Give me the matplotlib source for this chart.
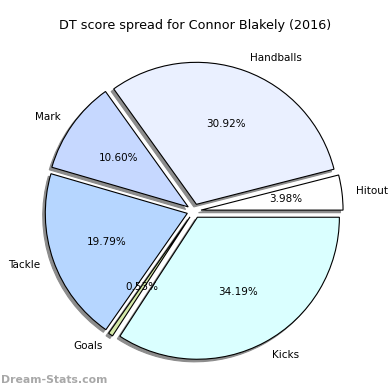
import matplotlib
matplotlib.use("Agg")
import matplotlib.pyplot as plt

categories = ["Hitout", "Handballs", "Mark", "Tackle", "Goals", "Kicks"]
percent = [3.98, 30.92, 10.60, 19.79, 0.53, 34.19]
colours = ["#ffffff", "#eaf0ff", "#c6d8ff", "#b6d6ff", "#d4e8a8", "#daffff"]
explode = [0.05, 0.05, 0.05, 0.05, 0.05, 0.05]

fig = plt.figure(figsize=(3.9, 3.9), dpi=100)

# centre of the pie ~ (194, 179) px from bottom-left, radius ~142 px
r_px = 142.0
cx, cy = 194.0, 179.0
lim = 1.25
w = 2 * lim * r_px / 390
ax = fig.add_axes([(cx - lim * r_px) / 390, (cy - lim * r_px) / 390, w, w])

wedges, texts, autotexts = ax.pie(
    percent, labels=categories, colors=colours, explode=explode,
    autopct="%1.2f%%", startangle=0,
    shadow={"ox": -0.013, "oy": -0.013, "facecolor": "#8c8c8c",
            "edgecolor": "#8c8c8c", "alpha": 1.0},
    wedgeprops={"edgecolor": "black", "linewidth": 0.8},
    textprops={"fontsize": 7.5},
)
ax.set_xlim(-lim, lim)
ax.set_ylim(-lim, lim)
ax.set_aspect("equal")
ax.axis("off")

fig.text(0.5, 1 - 25 / 390, "DT score spread for Connor Blakely (2016)",
         ha="center", va="center", fontsize=9.2)
fig.text(0.002, 1 - 380 / 390, "Dream-Stats.com", ha="left", va="center",
         fontsize=7.8, fontweight="bold", color="#a8a8a8")

fig.savefig("out.png", dpi=100)
